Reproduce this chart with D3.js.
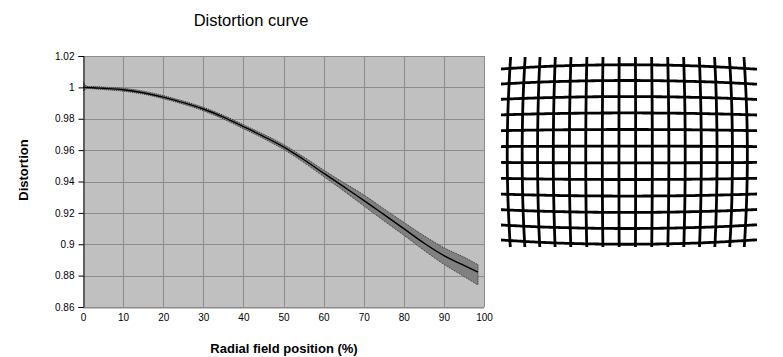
<!DOCTYPE html>
<html><head><meta charset="utf-8">
<script src="https://cdn.jsdelivr.net/npm/d3@7"></script>
<style>
body{margin:0;background:#fff;}
svg{display:block;font-family:"Liberation Sans",Arial,sans-serif;}
</style></head>
<body>
<svg id="chart" width="783" height="357"></svg>
<script>
// ---- data ----
const fieldPos = [0, 1.2, 2.5, 5, 10, 15, 20, 25, 30, 35, 40, 45, 50, 55, 60, 65, 70, 75, 80, 85, 90, 95, 98.5];
const distortionMean = [1.0000, 0.9999, 0.9998, 0.9994, 0.9985, 0.9966, 0.9938, 0.9903, 0.9862, 0.9810, 0.9750, 0.9688, 0.9621, 0.9540, 0.9453, 0.9367, 0.9280, 0.9190, 0.9100, 0.9008, 0.8928, 0.8865, 0.8823];
const distortionUpper = [1.0036, 1.0005, 1.0006, 1.0002, 0.9994, 0.9976, 0.9948, 0.9913, 0.9873, 0.9822, 0.9762, 0.9702, 0.9636, 0.9557, 0.9473, 0.9393, 0.9315, 0.9227, 0.9140, 0.9055, 0.8978, 0.8918, 0.8870];
const distortionLower = [0.9977, 0.9993, 0.9991, 0.9986, 0.9976, 0.9957, 0.9928, 0.9893, 0.9851, 0.9798, 0.9737, 0.9674, 0.9605, 0.9522, 0.9432, 0.9340, 0.9245, 0.9150, 0.9058, 0.8962, 0.8872, 0.8795, 0.8740];
const xTicks = [0, 10, 20, 30, 40, 50, 60, 70, 80, 90, 100];
const yTicks = [0.86, 0.88, 0.9, 0.92, 0.94, 0.96, 0.98, 1, 1.02];
const titleText = "Distortion curve";
const xLabel = "Radial field position (%)";
const yLabel = "Distortion";
const gridCols = 16, gridRows = 12;

// ---- layout ----
const svg = d3.select("#chart");
const L = 83, T = 56, W = 401, H = 251;
const x = d3.scaleLinear().domain([0, 100]).range([L, L + W]);
const y = d3.scaleLinear().domain([0.86, 1.02]).range([T + H, T]);

svg.append("text").attr("x", 251).attr("y", 26).attr("text-anchor", "middle")
  .attr("font-size", 16.5).attr("fill", "#000").text(titleText);

svg.append("rect").attr("x", L).attr("y", T).attr("width", W).attr("height", H).attr("fill", "#c0c0c0");

// gridlines
const g = svg.append("g");
g.selectAll("line.vx").data(xTicks.slice(1)).enter().append("line")
  .attr("x1", d => Math.round(x(d)) + 0.5).attr("x2", d => Math.round(x(d)) + 0.5)
  .attr("y1", T).attr("y2", T + H).attr("stroke", "#8c8c8c").attr("stroke-width", 1);
g.selectAll("line.hy").data(yTicks).enter().append("line")
  .attr("y1", d => Math.round(y(d)) + 0.5).attr("y2", d => Math.round(y(d)) + 0.5)
  .attr("x1", L).attr("x2", L + W).attr("stroke", "#8c8c8c").attr("stroke-width", 1);

// band
const pts = fieldPos.map((p, i) => ({p, m: distortionMean[i], u: distortionUpper[i], l: distortionLower[i]}));
const area = d3.area().x(d => x(d.p)).y0(d => y(d.l)).y1(d => y(d.u)).curve(d3.curveMonotoneX);
svg.append("path").datum(pts).attr("d", area).attr("fill", "#808080");
const edgeU = d3.line().x(d => x(d.p)).y(d => y(d.u)).curve(d3.curveMonotoneX);
const edgeL = d3.line().x(d => x(d.p)).y(d => y(d.l)).curve(d3.curveMonotoneX);
svg.append("path").datum(pts).attr("d", edgeU).attr("fill", "none").attr("stroke", "#333").attr("stroke-width", 1).attr("stroke-dasharray", "1,1");
svg.append("path").datum(pts).attr("d", edgeL).attr("fill", "none").attr("stroke", "#333").attr("stroke-width", 1).attr("stroke-dasharray", "1,1");
const last = pts[pts.length - 1];
svg.append("line").attr("x1", x(last.p)).attr("x2", x(last.p)).attr("y1", y(last.u)).attr("y2", y(last.l))
  .attr("stroke", "#333").attr("stroke-width", 1).attr("stroke-dasharray", "1,1");
const lineM = d3.line().x(d => x(d.p)).y(d => y(d.m)).curve(d3.curveMonotoneX);
svg.append("path").datum(pts).attr("d", lineM).attr("fill", "none").attr("stroke", "#000").attr("stroke-width", 1.4);

// axes
const yAxis = d3.axisLeft(y).tickValues(yTicks).tickSize(5).tickPadding(4).tickFormat(d3.format("~g"));
const ya = svg.append("g").attr("transform", `translate(${L + 0.5},0)`).call(yAxis);
ya.select(".domain").attr("stroke", "#000");
ya.selectAll(".tick line").attr("stroke", "#000");
ya.selectAll("text").attr("font-size", 10).attr("fill", "#000").attr("font-family", "Liberation Sans, Arial, sans-serif");

const xAxis = d3.axisBottom(x).tickValues(xTicks).tickSize(0).tickPadding(6).tickFormat(d3.format("d"));
const xa = svg.append("g").attr("transform", `translate(0,${T + H + 0.5})`).call(xAxis);
xa.select(".domain").attr("stroke", "#8c8c8c");
xa.selectAll("text").attr("font-size", 10).attr("fill", "#000").attr("font-family", "Liberation Sans, Arial, sans-serif");

svg.append("text").attr("x", 284).attr("y", 353).attr("text-anchor", "middle")
  .attr("font-size", 13).attr("font-weight", "bold").text(xLabel);
svg.append("text").attr("transform", "translate(28,170) rotate(-90)").attr("text-anchor", "middle")
  .attr("font-size", 13).attr("font-weight", "bold").text(yLabel);

// ---- distorted grid image (barrel distortion driven by the curve) ----
const imgX = 501, imgY = 57, imgW = 256, imgH = 190;
const cx = 627.3, cy = 154.5, spacing = 16.7, Rfield = 240;
const D = d3.scaleLinear().domain(fieldPos).range(distortionMean).clamp(true);
function warp(u, v) {
  const r = Math.sqrt(u * u + v * v) / Rfield * 100;
  const f = D(r);
  return [cx + u * f, cy + v * f];
}
const defs = svg.append("defs");
defs.append("clipPath").attr("id", "imgclip").append("rect")
  .attr("x", imgX).attr("y", imgY).attr("width", imgW).attr("height", imgH);
const gi = svg.append("g").attr("clip-path", "url(#imgclip)");
const ts = d3.range(-200, 201, 2);
const gridLine = d3.line().curve(d3.curveLinear);
const cols = d3.range(gridCols).map(i => (i - (gridCols - 1) / 2) * spacing);
const rows = d3.range(gridRows).map(j => (j - (gridRows - 1) / 2) * spacing);
gi.selectAll("path.col").data(cols).enter().append("path")
  .attr("d", u => gridLine(ts.map(t => warp(u, t))))
  .attr("fill", "none").attr("stroke", "#000").attr("stroke-width", 2.8);
gi.selectAll("path.row").data(rows).enter().append("path")
  .attr("d", v => gridLine(ts.map(t => warp(t, v))))
  .attr("fill", "none").attr("stroke", "#000").attr("stroke-width", 2.8);
</script>
</body></html>
